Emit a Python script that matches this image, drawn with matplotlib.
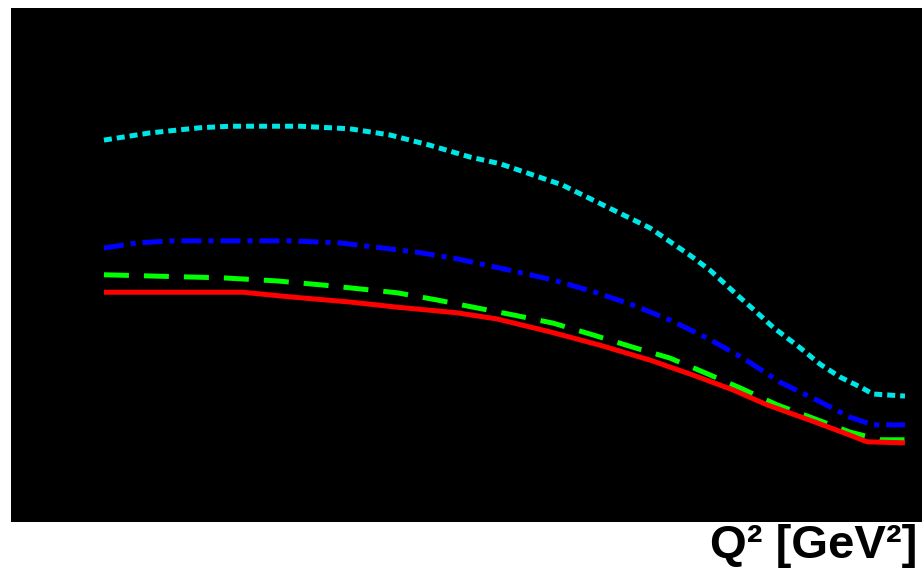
import matplotlib
matplotlib.use("Agg")
import matplotlib.pyplot as plt

# Q^2 grid for each curve [GeV^2] and the curve values (arbitrary units)
q2_cyan = [0.000, 0.230, 0.479, 0.629, 0.979, 1.228, 1.428, 1.628, 1.828, 1.978,
           2.287, 2.512, 2.727, 2.926, 3.026, 3.161, 3.251, 3.341, 3.476, 3.576,
           3.676, 3.785, 3.840, 4.000]
val_cyan = [0.743, 0.757, 0.767, 0.770, 0.770, 0.765, 0.753, 0.733, 0.710, 0.697,
            0.656, 0.613, 0.572, 0.519, 0.490, 0.442, 0.411, 0.379, 0.339, 0.307,
            0.282, 0.261, 0.249, 0.245]

q2_blue = [0.000, 0.165, 0.345, 0.929, 1.179, 1.393, 1.563, 1.763, 1.978, 2.242,
           2.462, 2.642, 2.826, 3.011, 3.191, 3.376, 3.561, 3.725, 3.840, 4.000]
val_blue = [0.533, 0.543, 0.547, 0.547, 0.543, 0.533, 0.525, 0.512, 0.494, 0.471,
            0.446, 0.422, 0.393, 0.358, 0.319, 0.272, 0.237, 0.204, 0.189, 0.189]

q2_green = [0.000, 0.594, 0.864, 1.094, 1.463, 1.663, 1.843, 2.042, 2.242, 2.442,
            2.642, 2.826, 2.991, 3.176, 3.361, 3.541, 3.725, 3.875, 4.000]
val_green = [0.481, 0.475, 0.469, 0.461, 0.446, 0.432, 0.418, 0.403, 0.387, 0.364,
             0.340, 0.319, 0.292, 0.261, 0.228, 0.202, 0.175, 0.160, 0.160]

q2_red = [0.000, 0.694, 0.929, 1.228, 1.463, 1.763, 1.963, 2.227, 2.477, 2.727,
          2.941, 3.141, 3.311, 3.561, 3.725, 3.810, 4.000]
val_red = [0.447, 0.447, 0.438, 0.428, 0.418, 0.407, 0.395, 0.370, 0.344, 0.315,
           0.286, 0.257, 0.228, 0.193, 0.169, 0.156, 0.154]

W, H = 922, 573
fig = plt.figure(figsize=(W / 100, H / 100), dpi=100)
ax = fig.add_axes([11 / W, (H - 522) / H, 911 / W, 514 / H])
ax.set_facecolor("black")
for s in ax.spines.values():
    s.set_visible(False)
ax.set_xticks([])
ax.set_yticks([])
ax.set_xlim(-0.464, 4.085)
ax.set_ylim(0.0, 1.0)

lw = 3.6
ax.plot(q2_cyan, val_cyan, color="#00e5e5", lw=lw, dashes=(1.6, 1.0),
        dash_capstyle="butt")
ax.plot(q2_blue, val_blue, color="#0000ff", lw=lw, dashes=(4.0, 1.4, 1.0, 1.4),
        dash_capstyle="butt")
ax.plot(q2_green, val_green, color="#00ff00", lw=lw, dashes=(5.0, 3.0),
        dash_capstyle="butt")
ax.plot(q2_red, val_red, color="#ff0000", lw=lw, solid_capstyle="butt")

# axis title sits under the frame, flush right
fig.text(917 / W, (H - 558) / H, "Q² [GeV²]",
         family="Liberation Sans", fontweight="bold", fontsize=34,
         ha="right", va="baseline")

fig.savefig("out.png", dpi=100, facecolor="white")
